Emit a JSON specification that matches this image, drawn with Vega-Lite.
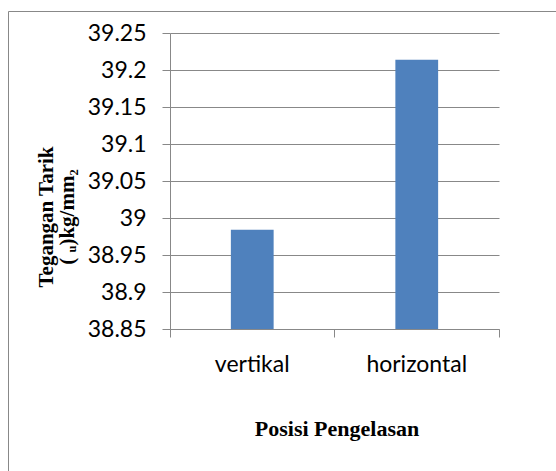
{
  "$schema": "https://vega.github.io/schema/vega-lite/v6.json",
  "autosize": {"type": "none"},
  "width": 560,
  "height": 475,
  "padding": {"left": 8, "top": 11, "right": 0, "bottom": 0},
  "background": "white",
  "config": {
    "view": {"stroke": "#888888", "strokeWidth": 1},
    "axis": {"domainColor": "#888888", "tickColor": "#888888", "gridColor": "#888888", "gridOpacity": 1, "domainWidth": 1, "tickWidth": 1, "gridWidth": 1}
  },
  "data": {
    "values": [
      {"posisi": "vertikal", "tegangan": 38.984},
      {"posisi": "horizontal", "tegangan": 39.214}
    ]
  },
  "mark": {"type": "bar", "color": "#4f81bd", "width": {"band": 0.26}},
  "encoding": {
    "x": {
      "field": "posisi",
      "type": "nominal",
      "sort": ["vertikal", "horizontal"],
      "scale": {"range": [162, 491], "paddingInner": 0, "paddingOuter": 0},
      "axis": {
        "orient": "bottom",
        "offset": -157,
        "bandPosition": 1,
        "tickExtra": true,
        "tickSize": 8,
        "labelAngle": 0,
        "labelFont": "Lato",
        "labelFontSize": 23,
        "labelColor": "#000000",
        "labelPadding": 16,
        "title": "Posisi Pengelasan",
        "titleFont": "Liberation Serif",
        "titleFontWeight": "bold",
        "titleFontSize": 22,
        "titleColor": "#000000",
        "titleBaseline": "alphabetic",
        "titleX": 328.5,
        "titleY": 106,
        "grid": false
      }
    },
    "y": {
      "field": "tegangan",
      "type": "quantitative",
      "scale": {"domain": [38.85, 39.25], "range": [318, 22], "zero": false, "nice": false},
      "axis": {
        "orient": "left",
        "offset": -162,
        "values": [38.85, 38.9, 38.95, 39, 39.05, 39.1, 39.15, 39.2, 39.25],
        "format": "~f",
        "tickSize": 8,
        "labelFont": "Lato",
        "labelFontSize": 23,
        "labelColor": "#000000",
        "labelPadding": 16,
        "grid": true,
        "title": ["Tegangan Tarik", "( ᵤ)kg/mm₂"],
        "titleFont": "Liberation Serif",
        "titleFontWeight": "bold",
        "titleFontSize": 21,
        "titleLineHeight": 21.5,
        "titleColor": "#000000",
        "titleAngle": -90,
        "titleAlign": "center",
        "titleBaseline": "alphabetic",
        "titleX": -118,
        "titleY": 205.5
      }
    },
    "y2": {"datum": 38.85}
  }
}
